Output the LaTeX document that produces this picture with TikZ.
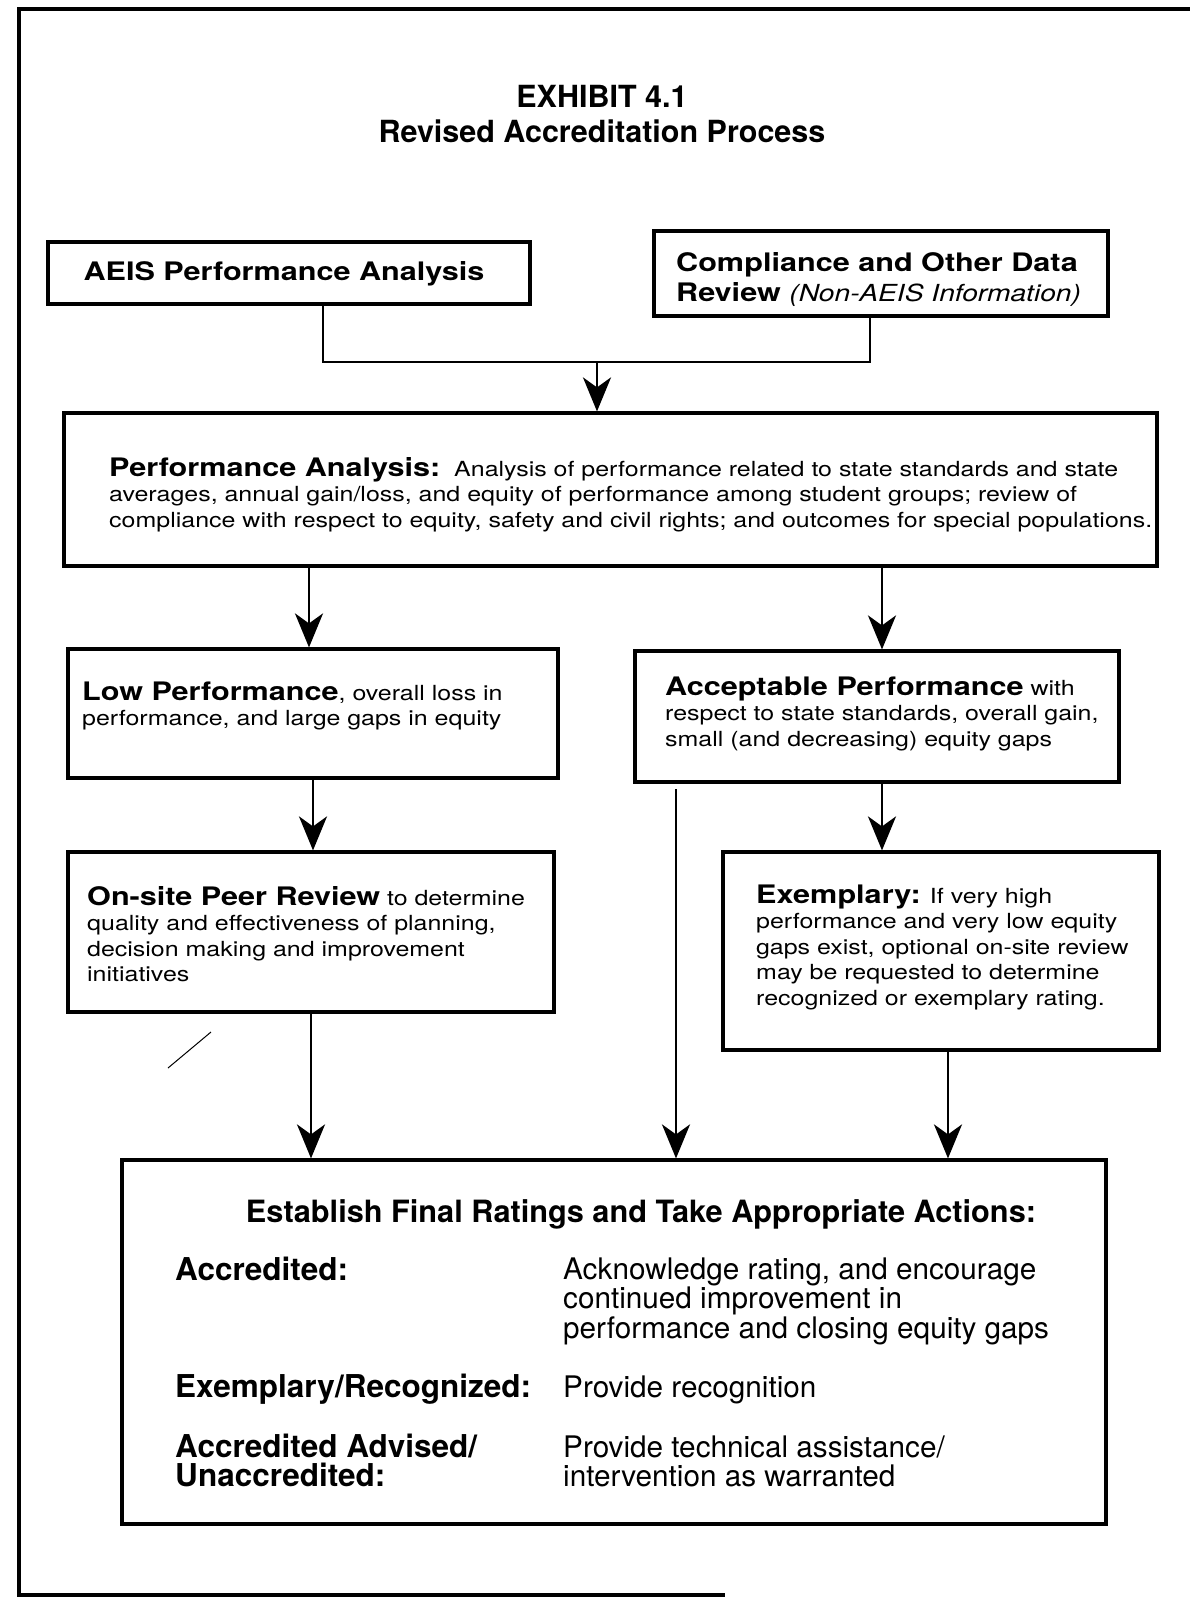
\documentclass[tikz,border=0pt]{standalone}
\usepackage{fontspec}
\setmainfont{TeX Gyre Heros}
\newfontfamily\widefont{TeX Gyre Heros}[FakeStretch=1.2]
\usetikzlibrary{positioning,arrows.meta}

\newcommand{\hd}[1]{{\fontsize{25.5}{25.5}\selectfont\bfseries #1}}

\begin{document}
\begin{tikzpicture}[x=1pt, y=-1pt,
  box/.style={draw, line width=3.2pt, inner sep=0pt},
  txt/.style={inner sep=0pt, align=left, anchor=base west,
    font=\widefont\fontsize{20.8}{25.5}\selectfont},
  lbl/.style={inner sep=0pt, align=left, anchor=base west,
    font=\fontsize{31.5}{29.5}\selectfont\bfseries},
  act/.style={inner sep=0pt, align=left, anchor=base west,
    font=\fontsize{29.7}{29.5}\selectfont},
  arr/.style={line width=2.6pt, -{Stealth[length=34pt, width=28pt, inset=10pt]}}]
  \useasboundingbox (0,0) rectangle (1190,1599);
  % outer frame
  \draw[line width=4pt] (1190,9) -- (19,9) -- (19,1595) -- (725,1595);
  \node[align=center, font=\fontsize{30.5}{35}\selectfont\bfseries] (title) at (602,114)
    {EXHIBIT 4.1\\Revised Accreditation Process};

  % inputs
  \node[box, minimum width=482pt, minimum height=62pt] (aeis) at (289,273) {};
  \node[txt, anchor=center, font=\widefont\fontsize{25.5}{30}\selectfont\bfseries] (aeis-txt)
    at (284,274) {AEIS Performance Analysis};
  \node[box, minimum width=454pt, minimum height=85pt] (comp) at (881,273.5) {};
  \node[txt, anchor=west, font=\widefont\fontsize{25.5}{30}\selectfont\bfseries] (comp-txt)
    at (676,279) {Compliance and Other Data\\Review {\mdseries\itshape\fontsize{23.5}{30}\selectfont (Non-AEIS Information)}};
  \coordinate (aeis-out) at (323,304);
  \coordinate (comp-out) at (870,316);
  \coordinate (join) at (597,362);
  \draw[line width=2.6pt] (aeis-out) |- (join) -| (comp-out);

  % analysis
  \node[box, minimum width=1093pt, minimum height=153pt] (pa) at (610.5,489.5) {};
  \node[txt] (pa-txt) at (109,527)
    {\hd{Performance Analysis:}\ \ Analysis of performance related to state standards and state\\
     averages, annual gain/loss, and equity of performance among student groups; review of\\
     compliance with respect to equity, safety and civil rights; and outcomes for special populations.};

  % two branches
  \node[box, minimum width=490pt, minimum height=129pt] (low) at (313,713.5) {};
  \node[txt] (low-txt) at (82,725.5)
    {\hd{Low Performance}, overall loss in\\performance, and large gaps in equity};
  \node[box, minimum width=484pt, minimum height=131pt] (acc) at (877,716.5) {};
  \node[txt] (acc-txt) at (665,746)
    {\hd{Acceptable Performance} with\\respect to state standards, overall gain,\\
     small (and decreasing) equity gaps};

  \node[box, minimum width=486pt, minimum height=160pt] (onsite) at (311,932) {};
  \node[txt] (onsite-txt) at (87,981.5)
    {\hd{On-site Peer Review} to determine\\quality and effectiveness of planning,\\
     decision making and improvement\\initiatives};
  \node[box, minimum width=436pt, minimum height=198pt] (exem) at (941,951) {};
  \node[txt] (exem-txt) at (756,1005)
    {\hd{Exemplary:} If very high\\performance and very low equity\\
     gaps exist, optional on-site review\\may be requested to determine\\
     recognized or exemplary rating.};
  \coordinate (acc-skip) at (676,789);

  % final ratings
  \node[box, minimum width=984pt, minimum height=364pt] (final) at (614,1342) {};
  \node[font=\fontsize{30.7}{34}\selectfont\bfseries] (final-title) at (641,1214)
    {Establish Final Ratings and Take Appropriate Actions:};
  \node[lbl] (acc-lbl) at (175,1280) {Accredited:};
  \node[act] (acc-act) at (563,1338)
    {Acknowledge rating, and encourage\\continued improvement in\\performance and closing equity gaps};
  \node[lbl] (exr-lbl) at (175,1397) {Exemplary/Recognized:};
  \node[act] (exr-act) at (563,1397) {Provide recognition};
  \node[lbl] (adv-lbl) at (175,1486.5) {Accredited Advised/\\Unaccredited:};
  \node[act] (adv-act) at (563,1486.5) {Provide technical assistance/\\intervention as warranted};

  % arrows
  \draw[arr] (join) -- (join |- pa.north);
  \draw[arr] (pa.south -| low.north) ++(-4,0) -- ([xshift=-4pt]low.north);
  \draw[arr] (pa.south -| acc.north) ++(5,0) -- ([xshift=5pt]acc.north);
  \draw[arr] (low.south) -- (low.south |- onsite.north);
  \draw[arr] ([xshift=5pt]acc.south) -- ([xshift=5pt]acc.south |- exem.north);
  \draw[arr] (onsite.south) -- (onsite.south |- final.north);
  \draw[arr] (acc-skip) -- (acc-skip |- final.north);
  \draw[arr] ([xshift=7pt]exem.south) -- ([xshift=7pt]exem.south |- final.north);
  \draw[line width=1pt] (168,1068) -- (211,1032);
\end{tikzpicture}
\end{document}
